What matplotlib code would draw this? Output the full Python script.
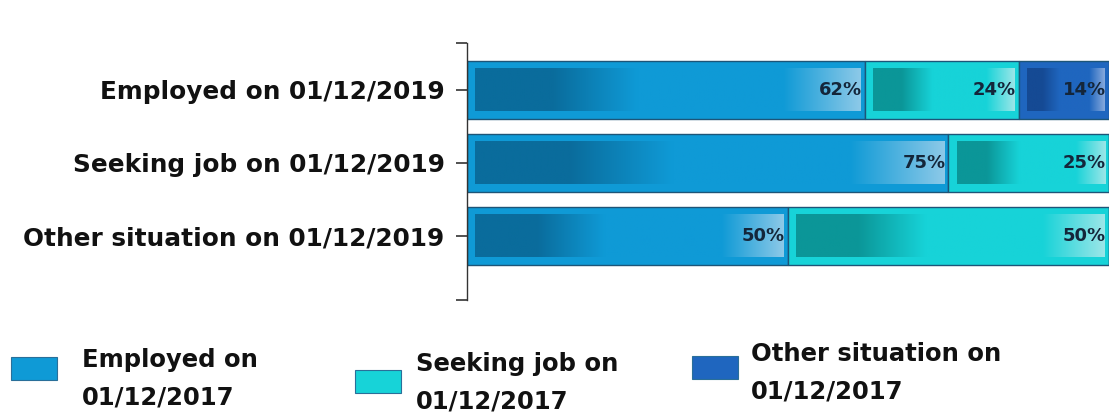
import numpy as np
import matplotlib
matplotlib.use("Agg")
import matplotlib.pyplot as plt
from matplotlib.colors import LinearSegmentedColormap
from matplotlib.patches import Rectangle

categories = ["Employed on 01/12/2019", "Seeking job on 01/12/2019", "Other situation on 01/12/2019"]
series_names = ["Employed on\n01/12/2017", "Seeking job on\n01/12/2017", "Other situation on\n01/12/2017"]
employed = [62, 75, 50]
seeking = [24, 25, 50]
other = [14, 0, 0]

base_colors = ["#0f9ad6", "#17d3d8", "#1f66bf"]
dark_colors = ["#0a6c9c", "#0b9698", "#154a94"]
light_colors = ["#8cc9e8", "#9be6e8", "#86a9dc"]

plt.rcParams["font.family"] = ["DejaVu Sans"]

fig = plt.figure(figsize=(11.09, 4.12), dpi=100)
ax = fig.add_axes([0.421, 0.272, 0.579, 0.624])

y = np.arange(len(categories))
bar_h = 0.79
inner_h = 0.58
grad = np.linspace(0, 1, 256).reshape(1, -1)

left = np.zeros(len(categories))
for vals, base, dark, light in zip([employed, seeking, other], base_colors, dark_colors, light_colors):
    vals = np.array(vals, dtype=float)
    ax.barh(y, vals, left=left, height=bar_h, color=base, edgecolor="#1d5578", linewidth=1.0, zorder=2)
    cmap = LinearSegmentedColormap.from_list(
        "g", [(0, dark), (0.2, dark), (0.42, base), (0.8, base), (1.0, light)])
    for i, v in enumerate(vals):
        if v <= 0:
            continue
        x0 = left[i] + 1.3
        x1 = left[i] + v - 0.6
        ax.imshow(grad, cmap=cmap, aspect="auto", interpolation="bilinear",
                  extent=(x0, x1, y[i] + inner_h / 2, y[i] - inner_h / 2), zorder=3)
        ax.text(left[i] + v - 0.45, y[i], f"{int(v)}%", ha="right", va="center",
                fontsize=13, fontweight="bold", color="#14263a", zorder=4)
    left += vals

ax.set_xlim(0, 100)
ax.set_ylim(2.877, -0.644)
ax.set_yticks(y)
ax.set_yticklabels(categories, fontsize=17.8, fontweight="bold", color="#111111")
ax.set_yticks([2.877, -0.644], minor=True)
ax.tick_params(axis="y", which="both", length=8, width=1.2, color="#333333", pad=8)
ax.set_xticks([])
for s in ["top", "right", "bottom"]:
    ax.spines[s].set_visible(False)
ax.spines["left"].set_color("#333333")
ax.spines["left"].set_linewidth(1.0)

# legend drawn by hand: square + two-line label per series (pixel positions)
W, H = 1109.0, 412.0
legend_sq = [(11, 357), (355, 370), (692, 356)]
legend_txt = [(82, 379), (416, 383), (751, 373)]
for name, color, (sx, sy), (tx, ty) in zip(series_names, base_colors, legend_sq, legend_txt):
    fig.add_artist(Rectangle((sx / W, 1 - (sy + 23) / H), 46 / W, 23 / H, transform=fig.transFigure,
                             facecolor=color, edgecolor="#2a6f99", linewidth=0.8))
    fig.text(tx / W, 1 - ty / H, name, ha="left", va="center", fontsize=17.5,
             fontweight="bold", color="#111111", linespacing=1.7)

fig.savefig("out.png", dpi=100)
